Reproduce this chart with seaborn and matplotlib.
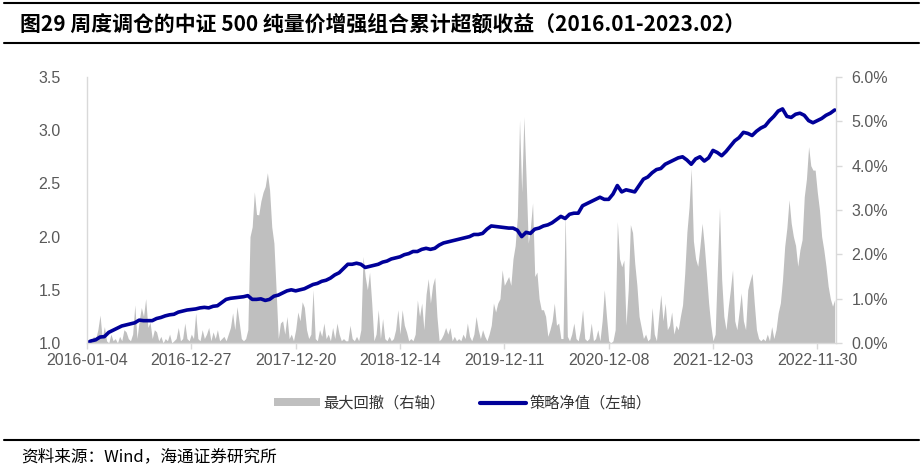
import numpy as np
import matplotlib
matplotlib.use("Agg")
import matplotlib.pyplot as plt
import seaborn as sns
from matplotlib.patches import Patch
from matplotlib.lines import Line2D


# trading-day index of the x tick dates (about 240 trading days apart)
tick_pos = [0, 240, 480, 720, 960, 1200, 1440, 1680]
tick_labels = ["2016-01-04", "2016-12-27", "2017-12-20", "2018-12-14",
               "2019-12-11", "2020-12-08", "2021-12-03", "2022-11-30"]

# strategy net value (left axis), one reading every 10 trading days
nav = [
    1.00, 1.02, 1.03, 1.056, 1.06, 1.10, 1.12, 1.14, 1.16, 1.17,
    1.18, 1.19, 1.215, 1.21, 1.21, 1.21, 1.23, 1.24, 1.255, 1.265,
    1.27, 1.29, 1.30, 1.31, 1.315, 1.32, 1.33, 1.335, 1.33, 1.345,
    1.35, 1.38, 1.41, 1.42, 1.425, 1.43, 1.435, 1.445, 1.41, 1.41,
    1.415, 1.40, 1.41, 1.44, 1.45, 1.47, 1.49, 1.50, 1.49, 1.50,
    1.51, 1.53, 1.55, 1.56, 1.58, 1.59, 1.61, 1.64, 1.66, 1.70,
    1.74, 1.74, 1.75, 1.74, 1.71, 1.72, 1.73, 1.74, 1.76, 1.77,
    1.79, 1.80, 1.81, 1.83, 1.84, 1.86, 1.86, 1.88, 1.89, 1.88,
    1.89, 1.92, 1.94, 1.95, 1.96, 1.97, 1.98, 1.99, 2.00, 2.02,
    2.02, 2.03, 2.07, 2.10, 2.095, 2.09, 2.085, 2.08, 2.08, 2.06,
    2.00, 2.04, 2.03, 2.07, 2.08, 2.10, 2.11, 2.13, 2.16, 2.19,
    2.17, 2.21, 2.22, 2.22, 2.29, 2.31, 2.33, 2.35, 2.37, 2.35,
    2.35, 2.40, 2.48, 2.42, 2.44, 2.43, 2.42, 2.48, 2.54, 2.56,
    2.60, 2.63, 2.64, 2.68, 2.70, 2.72, 2.74, 2.75, 2.72, 2.68,
    2.73, 2.75, 2.71, 2.74, 2.81, 2.79, 2.76, 2.80, 2.85, 2.90,
    2.93, 2.98, 2.97, 2.95, 2.99, 3.02, 3.04, 3.09, 3.13, 3.18,
    3.20, 3.13, 3.12, 3.15, 3.16, 3.14, 3.09, 3.07, 3.09, 3.11,
    3.14, 3.16, 3.19,
]

# max drawdown in % (right axis), one reading every 5 trading days
drawdown = [
    0, 0.1, 0.05, 0.15, 0.1, 0.3, 0.63, 0.1, 0.37, 0.05,
    0, 0.2, 0.05, 0.1, 0, 0.15, 0.05, 0.3, 0.25, 0.1,
    0.05, 0.2, 0.86, 0.1, 0.5, 0.8, 0.6, 1.0, 0.35, 0.47,
    0.1, 0.3, 0.25, 0.05, 0.15, 0, 0.1, 0.05, 0.2, 0,
    0.05, 0.1, 0.35, 0.05, 0.1, 0.45, 0.1, 0.05, 0.2, 0.1,
    0.68, 0.1, 0.05, 0.3, 0.1, 0.2, 0.35, 0.05, 0.25, 0.1,
    0.3, 0.05, 0.1, 0.15, 0.05, 0.2, 0.35, 0.68, 0.3, 0.82,
    0.47, 0.1, 0.05, 0.1, 0.3, 2.4, 2.62, 3.41, 2.9, 2.89,
    3.2, 3.4, 3.53, 3.84, 3.45, 2.62, 2.25, 1.2, 0.1, 0.45,
    0.5, 0.2, 0.6, 0.1, 0.2, 0.05, 0.3, 0.7, 0.5, 0.93,
    0.8, 0.3, 0.1, 0.2, 1.2, 0.1, 0.05, 0.3, 0.15, 0.45,
    0.1, 0.2, 0.05, 0.35, 0.1, 0.45, 0.2, 0.05, 0.1, 0.05,
    0.05, 0.4, 0.1, 0.05, 0.15, 0.05, 0.3, 1.95, 1.5, 1.2,
    1.6, 0.9, 0.05, 0.2, 0.75, 0.1, 0.55, 0.1, 0.05, 0.15,
    0.05, 0.1, 0.3, 0.75, 0.2, 0.75, 0.4, 0.25, 0.05, 0.1,
    0.05, 0.2, 0.97, 0.6, 0.9, 0.3, 1.1, 1.45, 0.9, 1.3,
    1.48, 0.6, 0.05, 0.1, 0.2, 0.35, 0.2, 0.35, 0.05, 0.15,
    0.05, 0.1, 0.05, 0.2, 0.1, 0.45, 0.15, 0.05, 0.2, 0.6,
    0.3, 0.1, 0.3, 0.15, 0.05, 0.2, 0.4, 0.9, 0.7, 0.9,
    1.0, 1.65, 1.3, 1.4, 1.5, 1.3, 1.9, 2.2, 2.85, 5.03,
    3.4, 5.1, 3.75, 2.25, 2.6, 3.16, 1.5, 1.6, 1.0, 0.75,
    0.75, 0.6, 0.15, 0.3, 0.5, 0.9, 0.4, 0.45, 0.1, 0.1,
    2.93, 0.15, 0.05, 0.2, 0.45, 0.1, 0.05, 0.3, 0.75, 0.1,
    0.05, 0.1, 0.45, 0.05, 0.1, 0.3, 0.05, 0.5, 1.2, 0.6,
    0.05, 0, 0.05, 0.3, 2.74, 1.9, 1.72, 1.87, 0.4, 1.2,
    2.67, 2.49, 1.8, 1.3, 0.6, 0.35, 0.1, 0.2, 0.05, 0.1,
    0.8, 0.2, 0.05, 0.6, 1.09, 0.5, 0.9, 0.3, 0.4, 0.7,
    0.2, 0.4, 0.3, 0.6, 0.86, 1.57, 2.5, 3.07, 3.94, 2.3,
    1.9, 1.73, 2.18, 2.7, 2.2, 1.57, 0.9, 0.4, 0.05, 0.2,
    1.65, 3.04, 1.43, 0.6, 0.3, 0.8, 1.2, 1.65, 0.5, 0.3,
    0.7, 1.13, 0.5, 0.3, 1.2, 1.4, 1.57, 0.9, 0.3, 0.1,
    0.05, 0.1, 0.05, 0.2, 0.05, 0.37, 0.1, 0.3, 0.68, 0.9,
    1.43, 2.18, 2.6, 3.23, 2.7, 2.4, 2.2, 1.73, 2.1, 2.33,
    3.3, 3.7, 4.43, 4.0, 3.9, 3.9, 3.4, 3.0, 2.4, 2.1,
    1.73, 1.28, 1.0, 0.83, 0.98,
]

title = "图29 周度调仓的中证 500 纯量价增强组合累计超额收益（2016.01-2023.02）"
source = "资料来源：Wind，海通证券研究所"

sns.set_theme(style="white")
plt.rcParams["font.family"] = ["Liberation Sans", "Noto Sans CJK SC", "DejaVu Sans"]
cjk = ["Noto Sans CJK SC", "DejaVu Sans"]

gray = "#BFBFBF"
blue = "#000099"
spine_c = "#D9D9D9"
label_c = "#595959"

fig = plt.figure(figsize=(9.24, 4.74), dpi=100)
ax = fig.add_axes([87 / 924, 1 - 343 / 474, 749 / 924, 266 / 474])
ax2 = ax.twinx()

nav_x = np.arange(len(nav)) * 10
dd_x = np.arange(len(drawdown)) * 5

ax2.fill_between(dd_x, drawdown, 0, color=gray, linewidth=0)
sns.lineplot(x=nav_x, y=nav, ax=ax, color=blue, linewidth=2.6)

# keep the net value line above the drawdown area
ax.set_zorder(ax2.get_zorder() + 1)
ax.patch.set_visible(False)

ax.set_xlim(0, 1723)
ax.set_ylim(1.0, 3.5)
ax2.set_ylim(0, 6)

ax.set_xticks(tick_pos)
ax.set_xticklabels(tick_labels)
ax.set_yticks([1.0, 1.5, 2.0, 2.5, 3.0, 3.5])
ax.set_yticklabels([f"{v:.1f}" for v in [1.0, 1.5, 2.0, 2.5, 3.0, 3.5]])
ax2.set_yticks([0, 1, 2, 3, 4, 5, 6])
ax2.set_yticklabels([f"{v:.1f}%" for v in [0, 1, 2, 3, 4, 5, 6]])

ax.tick_params(axis="x", length=4, width=1, color=spine_c, pad=3,
               labelsize=11.5, labelcolor=label_c, bottom=True)
ax.tick_params(axis="y", length=0, pad=19, labelsize=11.5, labelcolor=label_c)
ax2.tick_params(axis="y", length=4, width=1, color=spine_c, pad=7,
                labelsize=11.5, labelcolor=label_c, right=True)

for a in (ax, ax2):
    for s in a.spines.values():
        s.set_color(spine_c)
        s.set_linewidth(1)
    a.spines["top"].set_visible(False)
ax.spines["right"].set_visible(False)
ax2.spines["left"].set_visible(False)
ax2.spines["bottom"].set_visible(False)
ax.set_xlabel("")
ax.set_ylabel("")

handles = [
    Patch(facecolor=gray, edgecolor="none", label="最大回撤（右轴）"),
    Line2D([0], [0], color=blue, linewidth=3, label="策略净值（左轴）"),
]
fig.legend(handles=handles, loc="center", bbox_to_anchor=(0.501, 1 - 403 / 474),
           ncol=2, frameon=False, prop={"family": cjk, "size": 11},
           handlelength=3.0, handleheight=0.5, handletextpad=0.2,
           columnspacing=2.3, labelcolor="#333333")

# header / footer rules and texts
for y in (3, 43, 440):
    fig.add_artist(Line2D([4 / 924, 919 / 924], [1 - y / 474, 1 - y / 474],
                          color="black", linewidth=1.5))
fig.text(20 / 924, 1 - 24 / 474, title, fontsize=15, fontweight="bold",
         family=cjk, ha="left", va="center", color="black")
fig.text(21 / 924, 1 - 457 / 474, source, fontsize=12, family=cjk,
         ha="left", va="center", color="black")

fig.savefig("out.png", dpi=100)
